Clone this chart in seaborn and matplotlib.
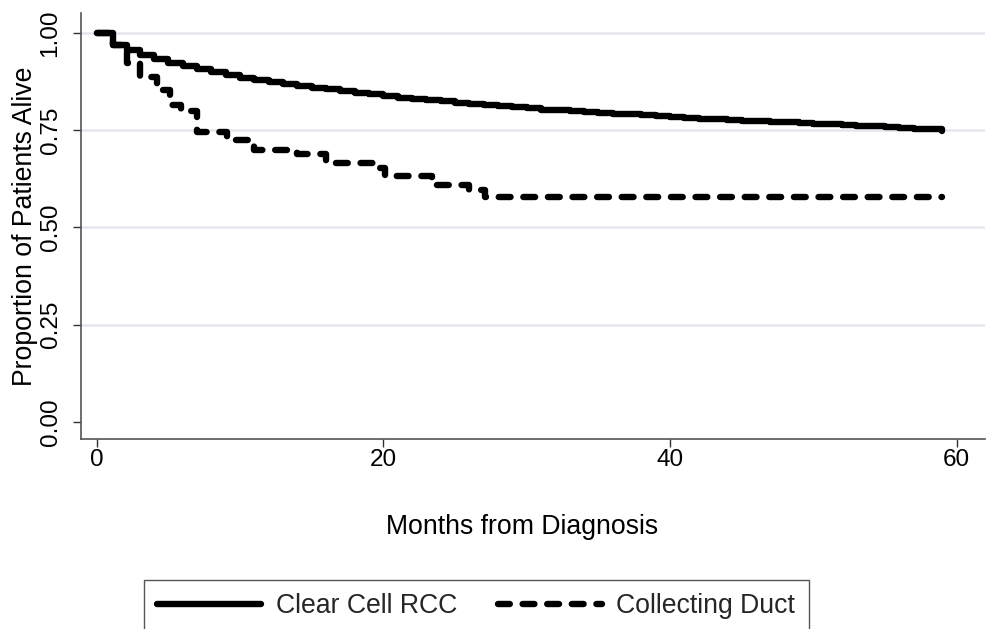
import numpy as np
import pandas as pd
import matplotlib
matplotlib.use("Agg")
import matplotlib.pyplot as plt
import matplotlib.patches as mpatches
import seaborn as sns

# Kaplan-Meier estimates (months, proportion alive)
clear_months = [0, 1.1, 2.1, 3, 4, 5, 6, 7, 8, 9, 10, 11, 12, 13, 14, 15, 16,
                17, 18, 19, 20, 21, 22, 23, 24, 25, 26, 27, 28, 29, 30, 31,
                32, 33, 34, 35, 36, 37, 38, 39, 40, 41, 42, 43, 44, 45, 46,
                47, 48, 49, 50, 51, 52, 53, 54, 55, 56, 57, 58, 59]
clear_surv = [1.000, 0.969, 0.956, 0.943, 0.933, 0.924, 0.915, 0.907, 0.899,
              0.891, 0.884, 0.879, 0.874, 0.869, 0.864, 0.859, 0.855, 0.851,
              0.847, 0.842, 0.838, 0.834, 0.830, 0.827, 0.824, 0.821, 0.818,
              0.815, 0.812, 0.809, 0.806, 0.803, 0.801, 0.799, 0.797, 0.795,
              0.793, 0.791, 0.789, 0.787, 0.784, 0.782, 0.780, 0.778, 0.776,
              0.775, 0.773, 0.771, 0.770, 0.768, 0.766, 0.765, 0.763, 0.761,
              0.760, 0.758, 0.756, 0.754, 0.752, 0.749]

duct_months = [0, 1.1, 2.1, 3.0, 4.2, 5.1, 5.9, 7.0, 9.1, 11.0, 14.0, 16.0,
               19.5, 20.1, 23.4, 26.0, 27.1, 59]
duct_surv = [1.0, 0.969, 0.923, 0.887, 0.853, 0.815, 0.800, 0.745, 0.725,
             0.700, 0.690, 0.665, 0.653, 0.632, 0.610, 0.596, 0.578, 0.578]

y_ticks = [0, 0.25, 0.5, 0.75, 1.0]
y_ticklabels = ["0.00", "0.25", "0.50", "0.75", "1.00"]
x_ticks = [0, 20, 40, 60]

sns.set_theme(style="white")
plt.rcParams["font.family"] = ["Liberation Sans", "DejaVu Sans"]

clear_df = pd.DataFrame({"months": clear_months, "surv": clear_surv})
duct_df = pd.DataFrame({"months": duct_months, "surv": duct_surv})

fig = plt.figure(figsize=(9.86, 6.29), dpi=100)
ax = fig.add_axes([0.0822, 0.302, 0.917, 0.677])

# grid lines (Stata style, no line at 0)
for yv in y_ticks[1:]:
    ax.axhline(yv, color="#e4e7ee", lw=1.8, zorder=0)

sns.lineplot(data=clear_df, x="months", y="surv", ax=ax, color="black",
             lw=4.6, drawstyle="steps-post", estimator=None, sort=False,
             solid_capstyle="round", solid_joinstyle="round",
             label="Clear Cell RCC")
sns.lineplot(data=duct_df, x="months", y="surv", ax=ax, color="black",
             lw=4.6, drawstyle="steps-post", estimator=None, sort=False,
             linestyle=(0, (1.85, 2.0)), dash_capstyle="round",
             dash_joinstyle="round", label="Collecting Duct")

ax.set_xlim(-1.1, 62.0)
ax.set_ylim(-0.044, 1.051)
ax.set_xticks(x_ticks)
ax.set_yticks(y_ticks)
ax.set_yticklabels(y_ticklabels, rotation=90, va="center")
ax.tick_params(axis="both", direction="out", length=6, width=1,
               color="#333333", labelsize=17.5, labelcolor="black",
               bottom=True, left=True)
ax.tick_params(axis="x", pad=1)
ax.tick_params(axis="y", pad=8)

for side in ["top", "right"]:
    ax.spines[side].set_visible(False)
for side in ["left", "bottom"]:
    ax.spines[side].set_color("#555555")
    ax.spines[side].set_linewidth(1.2)

ax.set_xlabel("Months from Diagnosis", fontsize=19.2, color="black", labelpad=31)
ax.xaxis.label.set_x(0.488)
ax.set_ylabel("Proportion of Patients Alive", fontsize=19.2, color="black", labelpad=1)

handles, labels = ax.get_legend_handles_labels()
ax.get_legend().remove()
leg = fig.legend(handles, labels, loc="upper left",
                 bbox_to_anchor=(144 / 986, 1 - 580 / 629), ncol=2,
                 fontsize=19.2, frameon=False,
                 handlelength=3.9, columnspacing=1.5, handletextpad=0.56,
                 borderpad=0.5, borderaxespad=0)

# legend box runs off the bottom edge, as in the reference
fig.canvas.draw()
bb = leg.get_window_extent().transformed(fig.transFigure.inverted())
box = mpatches.Rectangle((bb.x0, -0.05), bb.width, bb.y1 + 0.05,
                         transform=fig.transFigure, fill=False,
                         edgecolor="#555555", lw=1.0)
fig.patches.append(box)

fig.savefig("out.png", dpi=100)
